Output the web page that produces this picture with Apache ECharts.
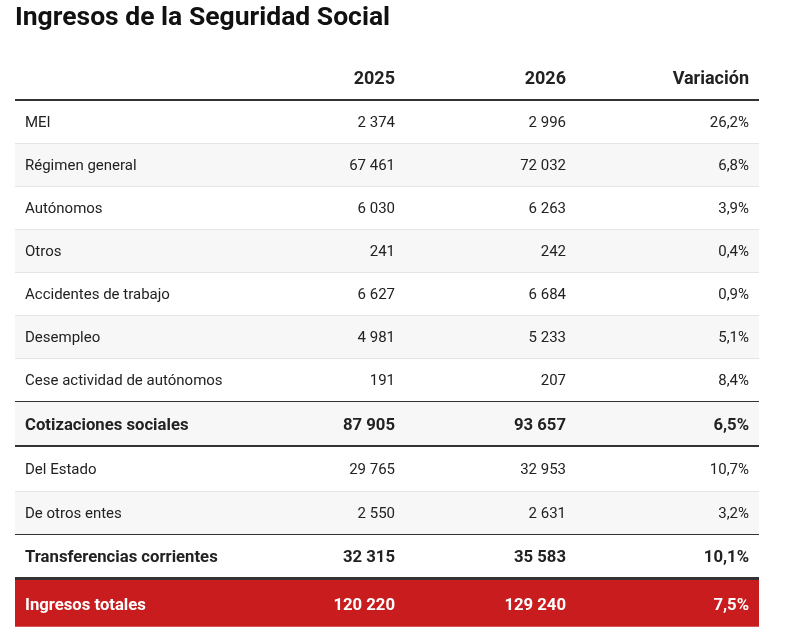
<!DOCTYPE html>
<html>
<head>
<meta charset="utf-8">
<script src="https://cdn.jsdelivr.net/npm/echarts@6/dist/echarts.min.js"></script>
<style>
html,body{margin:0;padding:0;background:#fff;}
#chart{width:794px;height:636px;}
</style>
</head>
<body>
<div id="chart"></div>
<script>
const titleText = 'Ingresos de la Seguridad Social';
const columnHeaders = ['2025', '2026', 'Variación'];
const rowLabels = ['MEI', 'Régimen general', 'Autónomos', 'Otros', 'Accidentes de trabajo', 'Desempleo', 'Cese actividad de autónomos', 'Cotizaciones sociales', 'Del Estado', 'De otros entes', 'Transferencias corrientes', 'Ingresos totales'];
const values2025 = [2374, 67461, 6030, 241, 6627, 4981, 191, 87905, 29765, 2550, 32315, 120220];
const values2026 = [2996, 72032, 6263, 242, 6684, 5233, 207, 93657, 32953, 2631, 35583, 129240];
const variationPct = [26.2, 6.8, 3.9, 0.4, 0.9, 5.1, 8.4, 6.5, 10.7, 3.2, 10.1, 7.5];
const rowKinds = ['item', 'item', 'item', 'item', 'item', 'item', 'item', 'subtotal', 'item', 'item', 'subtotal', 'total'];

// styling
const FONT = 'Roboto';
const TEXT = '#222';
const DARK = '#333';
const RED = '#c81c1e';
const ZEBRA = '#f7f7f7';
const LIGHT_LINE = '#e4e4e4';
const rowHeights = {item: 43.1, subtotal: 44.5, total: 48};
const afterSubtotalHeight = 45;
const tableWidth = 744;
const colRight = [380, 551, 734];
const labelX = 10;

const rowTops = [];
const rowH = [];
let acc = 0;
rowKinds.forEach(function (k, i) {
  let h = rowHeights[k];
  if (k === 'item' && rowKinds[i - 1] === 'subtotal') h = afterSubtotalHeight;
  rowTops.push(acc); rowH.push(h); acc += h;
});
const tableHeight = acc;

function fmtNum(n) {
  return String(n).replace(/\B(?=(\d{3})+(?!\d))/g, ' ');
}
function fmtPct(v) {
  return v.toFixed(1).replace('.', ',') + '%';
}

const chart = echarts.init(document.getElementById('chart'), null, {renderer: 'canvas'});

function renderItem(params, api) {
  const i = api.value(2);
  const kind = rowKinds[i];
  const top = rowTops[i];
  const h = rowH[i];
  const p0 = api.coord([0, top]);
  const p1 = api.coord([tableWidth, top + h]);
  const x0 = p0[0], y0 = p0[1], w = p1[0] - p0[0], hh = p1[1] - p0[1];
  const cy = y0 + hh / 2;
  const children = [];
  let bg = (i % 2 === 1) ? ZEBRA : '#fff';
  if (kind === 'total') bg = RED;
  children.push({type: 'rect', shape: {x: x0, y: y0, width: w, height: hh}, style: {fill: bg}, silent: true});

  const bold = kind !== 'item';
  const color = kind === 'total' ? '#fff' : TEXT;
  const fs = bold ? 16.7 : 15;
  const fw = bold ? 'bold' : 'normal';
  const cyText = kind === 'total' ? cy + 3 : cy + 1.5;
  function txt(x, s, align) {
    children.push({type: 'text', style: {x: x, y: cyText, text: s, fill: color, font: fw + ' ' + fs + 'px ' + FONT, textAlign: align, textVerticalAlign: 'middle'}, silent: true});
  }
  txt(x0 + labelX, rowLabels[i], 'left');
  txt(x0 + colRight[0], fmtNum(values2025[i]), 'right');
  txt(x0 + colRight[1], fmtNum(values2026[i]), 'right');
  txt(x0 + colRight[2], fmtPct(variationPct[i]), 'right');

  // bottom border
  const next = rowKinds[i + 1];
  if (next) {
    let lw = 1, lc = LIGHT_LINE;
    if (next === 'subtotal') { lw = 1; lc = DARK; }
    else if (next === 'total') { lw = 3; lc = DARK; }
    else if (kind === 'subtotal') { lw = 2; lc = DARK; }
    const yb = Math.round(y0 + hh - lw / 2);
    children.push({type: 'rect', shape: {x: x0, y: yb, width: w, height: lw}, style: {fill: lc}, silent: true, z2: 5});
  }

  // header above first row
  if (i === 0) {
    children.push({type: 'rect', shape: {x: x0, y: Math.round(y0 - 1), width: w, height: 2}, style: {fill: DARK}, silent: true, z2: 5});
    columnHeaders.forEach(function (hd, k) {
      children.push({type: 'text', style: {x: x0 + colRight[k], y: y0 - 21, text: hd, fill: TEXT, font: 'bold 18px ' + FONT, textAlign: 'right', textVerticalAlign: 'middle'}, silent: true});
    });
  }
  return {type: 'group', children: children};
}

chart.setOption({
  animation: false,
  title: {
    text: titleText, left: 15, top: 5, padding: 0,
    textStyle: {fontFamily: FONT, fontSize: 26.5, fontWeight: 'bold', color: '#111'}
  },
  grid: {left: 15, right: 794 - 15 - tableWidth, top: 100, height: tableHeight},
  xAxis: {type: 'value', min: 0, max: tableWidth, show: false},
  yAxis: {type: 'value', min: 0, max: tableHeight, inverse: true, show: false},
  series: [{
    type: 'custom',
    renderItem: renderItem,
    clip: false,
    encode: {x: 0, y: 1},
    data: rowLabels.map(function (l, i) { return [0, rowTops[i], i]; })
  }]
});
</script>
</body>
</html>
